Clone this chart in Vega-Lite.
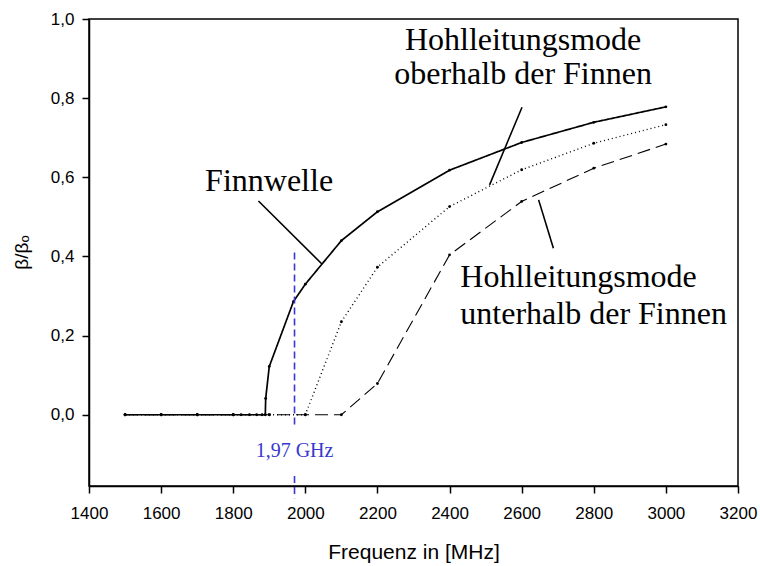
{
  "$schema": "https://vega.github.io/schema/vega-lite/v6.json",
  "width": 649,
  "height": 467,
  "autosize": {"type": "none"},
  "padding": {"left": 89, "top": 19, "right": 22, "bottom": 80},
  "background": "white",
  "config": {
    "view": {"stroke": "black", "strokeWidth": 1.5},
    "axis": {
      "domainColor": "black", "domainWidth": 1.5,
      "tickColor": "black", "tickWidth": 1.5, "tickSize": 7,
      "labelFont": "Liberation Sans", "labelFontSize": 17, "labelColor": "black",
      "titleFont": "Liberation Sans", "titleFontWeight": "normal", "titleColor": "black",
      "grid": false
    }
  },
  "datasets": {
    "curves": [
      {"series": "Finnwelle", "f": 1500, "b": 0},
      {"series": "Finnwelle", "f": 1600, "b": 0},
      {"series": "Finnwelle", "f": 1700, "b": 0},
      {"series": "Finnwelle", "f": 1800, "b": 0},
      {"series": "Finnwelle", "f": 1822, "b": 0},
      {"series": "Finnwelle", "f": 1845, "b": 0},
      {"series": "Finnwelle", "f": 1865, "b": 0},
      {"series": "Finnwelle", "f": 1880, "b": 0},
      {"series": "Finnwelle", "f": 1889, "b": 0},
      {"series": "Finnwelle", "f": 1890, "b": 0.041},
      {"series": "Finnwelle", "f": 1900, "b": 0.122},
      {"series": "Finnwelle", "f": 1967, "b": 0.286},
      {"series": "Finnwelle", "f": 2000, "b": 0.33},
      {"series": "Finnwelle", "f": 2100, "b": 0.44},
      {"series": "Finnwelle", "f": 2200, "b": 0.513},
      {"series": "Finnwelle", "f": 2400, "b": 0.618},
      {"series": "Finnwelle", "f": 2600, "b": 0.688},
      {"series": "Finnwelle", "f": 2800, "b": 0.739},
      {"series": "Finnwelle", "f": 3000, "b": 0.778},
      {"series": "oberhalb", "f": 1500, "b": 0},
      {"series": "oberhalb", "f": 1600, "b": 0},
      {"series": "oberhalb", "f": 1700, "b": 0},
      {"series": "oberhalb", "f": 1800, "b": 0},
      {"series": "oberhalb", "f": 1900, "b": 0},
      {"series": "oberhalb", "f": 2000, "b": 0},
      {"series": "oberhalb", "f": 2100, "b": 0.235},
      {"series": "oberhalb", "f": 2200, "b": 0.373},
      {"series": "oberhalb", "f": 2400, "b": 0.526},
      {"series": "oberhalb", "f": 2600, "b": 0.619},
      {"series": "oberhalb", "f": 2800, "b": 0.686},
      {"series": "oberhalb", "f": 3000, "b": 0.733},
      {"series": "unterhalb", "f": 1500, "b": 0},
      {"series": "unterhalb", "f": 1600, "b": 0},
      {"series": "unterhalb", "f": 1700, "b": 0},
      {"series": "unterhalb", "f": 1800, "b": 0},
      {"series": "unterhalb", "f": 1900, "b": 0},
      {"series": "unterhalb", "f": 2000, "b": 0},
      {"series": "unterhalb", "f": 2100, "b": 0},
      {"series": "unterhalb", "f": 2200, "b": 0.079},
      {"series": "unterhalb", "f": 2400, "b": 0.404},
      {"series": "unterhalb", "f": 2600, "b": 0.539},
      {"series": "unterhalb", "f": 2800, "b": 0.623},
      {"series": "unterhalb", "f": 3000, "b": 0.684}
    ],
    "leaders": [
      {"f": 1870, "b": 0.540, "f2": 2046, "b2": 0.381},
      {"f": 2601, "b": 0.777, "f2": 2511, "b2": 0.581},
      {"f": 2647, "b": 0.543, "f2": 2688, "b2": 0.421}
    ],
    "labelsCenter": [
      {"f": 2604, "b": 0.922, "t": "Hohlleitungsmode"},
      {"f": 2604, "b": 0.836, "t": "oberhalb der Finnen"}
    ],
    "labelsLeft": [
      {"f": 1722, "b": 0.566, "t": "Finnwelle"},
      {"f": 2430, "b": 0.322, "t": "Hohlleitungsmode"},
      {"f": 2430, "b": 0.230, "t": "unterhalb der Finnen"}
    ],
    "marker": [
      {"f": 1970, "b": 0.41, "b2": -0.029},
      {"f": 1970, "b": -0.155, "b2": -0.211}
    ],
    "markerLabel": [
      {"f": 1970, "b": -0.107, "t": "1,97 GHz"}
    ]
  },
  "encoding": {
    "x": {
      "field": "f", "type": "quantitative",
      "scale": {"domain": [1400, 3200], "nice": false, "zero": false},
      "axis": {
        "values": [1400, 1600, 1800, 2000, 2200, 2400, 2600, 2800, 3000, 3200],
        "format": "d", "labelPadding": 12, "labelFlush": false, "labelOverlap": false,
        "title": "Frequenz in [MHz]", "titleFontSize": 21,
        "titleBaseline": "alphabetic", "titleY": 72
      }
    },
    "y": {
      "field": "b", "type": "quantitative",
      "scale": {"domain": [-0.18, 1.0], "nice": false, "zero": false},
      "axis": {
        "values": [0, 0.2, 0.4, 0.6, 0.8, 1.0],
        "labelExpr": "replace(format(datum.value, '.1f'), '.', ',')",
        "labelPadding": 8, "labelFlush": false,
        "title": "β/βₒ", "titleFontSize": 19,
        "titleX": -68, "titleY": 233, "titleAngle": -90, "titleAlign": "center", "titleBaseline": "middle"
      }
    }
  },
  "layer": [
    {
      "data": {"name": "curves"},
      "mark": {"type": "line", "color": "black"},
      "encoding": {
        "detail": {"field": "series"},
        "strokeDash": {
          "field": "series", "type": "nominal",
          "scale": {"domain": ["Finnwelle", "oberhalb", "unterhalb"], "range": [[1, 0], [1, 3], [13, 6]]},
          "legend": null
        },
        "strokeWidth": {
          "field": "series", "type": "nominal",
          "scale": {"domain": ["Finnwelle", "oberhalb", "unterhalb"], "range": [1.7, 1.1, 1.8]},
          "legend": null
        }
      }
    },
    {
      "data": {"name": "curves"},
      "mark": {"type": "point", "filled": true, "color": "black", "size": 8, "opacity": 1}
    },
    {
      "data": {"name": "marker"},
      "mark": {"type": "rule", "color": "#3838d0", "strokeWidth": 1.6, "strokeDash": [7, 4]},
      "encoding": {"y2": {"field": "b2"}}
    },
    {
      "data": {"name": "markerLabel"},
      "mark": {"type": "text", "font": "Liberation Serif", "fontSize": 20, "color": "#3838d0", "align": "center", "baseline": "alphabetic"},
      "encoding": {"text": {"field": "t"}}
    },
    {
      "data": {"name": "leaders"},
      "mark": {"type": "rule", "color": "black", "strokeWidth": 1.6},
      "encoding": {"x2": {"field": "f2"}, "y2": {"field": "b2"}}
    },
    {
      "data": {"name": "labelsCenter"},
      "mark": {"type": "text", "font": "Liberation Serif", "fontSize": 32, "color": "black", "align": "center", "baseline": "alphabetic"},
      "encoding": {"text": {"field": "t"}}
    },
    {
      "data": {"name": "labelsLeft"},
      "mark": {"type": "text", "font": "Liberation Serif", "fontSize": 32, "color": "black", "align": "left", "baseline": "alphabetic"},
      "encoding": {"text": {"field": "t"}}
    }
  ]
}
